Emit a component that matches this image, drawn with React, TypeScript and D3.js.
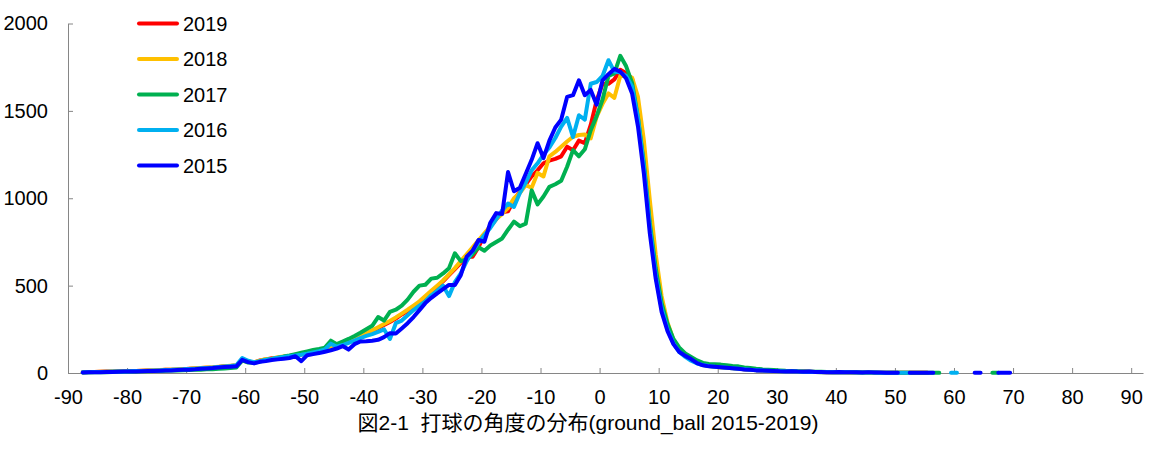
import * as d3 from "d3";
import React, { useEffect, useRef } from "react";

// launch angle bins (bin centres, degrees)
const angles: number[] = d3.range(-87.5, 70, 1);

const counts2019: (number | null)[] = [
	5, 6, 6, 7, 8, 9, 10, 11, 12, 12,
	13, 14, 15, 16, 18, 19, 20, 22, 24, 26,
	28, 30, 32, 35, 38, 40, 43, 70, 66, 60,
	72, 78, 84, 86, 92, 96, 100, 106, 116, 122,
	128, 136, 146, 156, 168, 180, 192, 208, 225, 240,
	258, 275, 292, 312, 335, 355, 378, 400, 430, 462,
	495, 525, 560, 595, 630, 665, 665, 720, 790, 840,
	880, 920, 925, 990, 1040, 1080, 1125, 1160, 1200, 1215,
	1225, 1240, 1295, 1275, 1330, 1315, 1420, 1560, 1655, 1655,
	1680, 1735, 1715, 1685, 1525, 1250, 900, 600, 400, 270,
	180, 130, 100, 78, 62, 50, 44, 40, 36, 32,
	28, 25, 22, 19, 17, 15, 13, 12, 11, 10,
	9, 8, 8, 7, 6, 6, 5, 5, 4, 4,
	4, 3, 3, 3, 3, 2, 2, 2, 2, 2,
	2, 1, 1, 1, null, null, null, null, null, null,
	null, null, null, null, null, null, null, null,
];

const counts2018: (number | null)[] = [
	4, 5, 6, 7, 7, 8, 9, 10, 11, 12,
	13, 14, 15, 17, 18, 19, 21, 22, 24, 27,
	29, 31, 33, 36, 39, 42, 45, 76, 64, 62,
	70, 80, 82, 90, 94, 98, 104, 110, 116, 124,
	130, 138, 148, 158, 170, 182, 196, 210, 226, 244,
	262, 280, 298, 318, 340, 362, 386, 410, 440, 470,
	500, 530, 565, 600, 640, 680, 720, 760, 800, 840,
	880, 910, 945, 1000, 1030, 1075, 1060, 1145, 1125, 1240,
	1265, 1295, 1325, 1352, 1362, 1365, 1343, 1467, 1540, 1600,
	1575, 1700, 1700, 1690, 1580, 1330, 990, 680, 440, 290,
	190, 135, 100, 76, 58, 46, 40, 36, 32, 30,
	27, 24, 21, 18, 16, 14, 13, 11, 10, 9,
	8, 8, 7, 6, 6, 5, 5, 4, 4, 4,
	3, 3, 3, 3, 2, 2, 2, 2, 2, 1,
	1, 1, 1, 1, null, null, null, null, null, null,
	null, null, null, null, null, null, null, null,
];

const counts2017: (number | null)[] = [
	3, 4, 4, 5, 5, 6, 7, 7, 8, 9,
	10, 10, 11, 12, 13, 14, 15, 16, 17, 18,
	19, 21, 22, 24, 26, 28, 32, 72, 60, 58,
	66, 74, 80, 86, 94, 100, 108, 116, 124, 132,
	138, 145, 185, 165, 180, 195, 212, 230, 250, 270,
	320, 300, 350, 362, 385, 420, 465, 500, 505, 540,
	545, 570, 600, 685, 640, 650, 680, 720, 700, 730,
	750, 770, 820, 866, 840, 855, 1045, 965, 1010, 1065,
	1080, 1100, 1180, 1275, 1240, 1280, 1390, 1470, 1565, 1700,
	1715, 1815, 1755, 1660, 1460, 1200, 860, 600, 400, 280,
	195, 145, 112, 92, 72, 58, 52, 50, 48, 44,
	40, 38, 32, 28, 24, 21, 19, 17, 15, 13,
	12, 10, 9, 8, 7, 7, 6, 5, 5, 4,
	4, 4, 3, 3, 3, 2, 2, 2, 2, 2,
	2, 2, 2, 2, 2, 1, null, null, null, null,
	null, null, null, null, 1, 1, null, null,
];

const counts2016: (number | null)[] = [
	4, 5, 6, 6, 7, 8, 9, 9, 10, 11,
	12, 13, 14, 15, 17, 18, 20, 21, 23, 25,
	27, 29, 31, 34, 37, 40, 44, 85, 70, 62,
	68, 76, 80, 88, 92, 96, 100, 104, 110, 118,
	125, 135, 168, 150, 160, 172, 185, 200, 212, 222,
	235, 250, 195, 285, 300, 330, 360, 385, 410, 445,
	470, 500, 440, 520, 570, 640, 700, 745, 790, 830,
	880, 930, 970, 950, 1030, 1090, 1160, 1200, 1250, 1290,
	1345, 1410, 1460, 1350, 1475, 1450, 1655, 1665, 1700, 1790,
	1725, 1720, 1700, 1640, 1460, 1180, 840, 560, 370, 250,
	170, 120, 92, 70, 54, 46, 40, 36, 33, 30,
	27, 24, 21, 18, 16, 14, 13, 11, 10, 9,
	8, 8, 7, 6, 6, 5, 5, 5, 4, 4,
	4, 3, 3, 3, 3, 2, 2, 2, 2, 1,
	1, null, null, null, null, null, null, 1, 1, null,
	null, null, null, null, null, null, null, null,
];

const counts2015: (number | null)[] = [
	3, 4, 4, 5, 6, 6, 7, 8, 8, 9,
	10, 11, 12, 13, 14, 15, 17, 18, 19, 21,
	24, 26, 28, 31, 34, 36, 38, 75, 62, 55,
	64, 68, 74, 78, 82, 86, 96, 68, 102, 108,
	114, 122, 130, 140, 154, 134, 165, 180, 182, 185,
	190, 205, 228, 226, 255, 285, 320, 360, 400, 430,
	456, 480, 504, 504, 560, 666, 700, 761, 751, 860,
	915, 910, 1150, 1040, 1060, 1140, 1220, 1315, 1230, 1330,
	1405, 1450, 1580, 1590, 1675, 1590, 1620, 1535, 1675, 1710,
	1740, 1725, 1685, 1600, 1410, 1140, 800, 540, 350, 240,
	165, 120, 98, 80, 56, 44, 38, 36, 33, 30,
	27, 24, 20, 18, 15, 14, 13, 12, 10, 9,
	10, 8, 7, 8, 6, 6, 5, 5, 6, 4,
	4, 4, 3, 5, 3, 3, 2, 2, 2, null,
	1, 1, 1, 1, 1, null, null, null, null, null,
	null, 1, 1, null, null, 1, 1, 1,
];

const seriesNames: string[] = ["2019", "2018", "2017", "2016", "2015"];
const seriesColors: string[] = ["#FF0000", "#FFC000", "#00B050", "#00B0F0", "#0000FF"];
const seriesValues = [counts2019, counts2018, counts2017, counts2016, counts2015];

const xTicks: number[] = d3.range(-90, 91, 10);
const yTicks: number[] = [0, 500, 1000, 1500, 2000];
const title = "図2-1  打球の角度の分布(ground_ball 2015-2019)";

const App = () => {
	const ref = useRef<SVGSVGElement>(null);

	useEffect(() => {
		document.body.style.margin = "0";
		const font = "'Liberation Sans', Arial, sans-serif";
		const axisColor = "#868686";

		const svg = d3.select(ref.current);
		svg.selectAll("*").remove();

		const xScale = d3.scaleLinear().domain([-90, 92]).range([68, 1143]);
		const yScale = d3.scaleLinear().domain([0, 2000]).range([373, 23.5]);

		// x axis, ticks point inward
		const gx = svg
			.append("g")
			.attr("transform", `translate(0, ${yScale(0)})`)
			.call(
				d3.axisBottom(xScale)
					.tickValues(xTicks)
					.tickSizeInner(-5)
					.tickSizeOuter(0)
					.tickPadding(17)
					.tickFormat((d) => String(d))
			);
		gx.select(".domain").attr("stroke", axisColor);
		gx.selectAll(".tick line").attr("stroke", axisColor);
		gx.selectAll(".tick text")
			.attr("fill", "#000")
			.attr("font-family", font)
			.attr("font-size", 20);

		// y axis
		const gy = svg
			.append("g")
			.attr("transform", `translate(${xScale(-90)}, 0)`)
			.call(
				d3.axisLeft(yScale)
					.tickValues(yTicks)
					.tickSizeInner(-5)
					.tickSizeOuter(0)
					.tickPadding(20)
					.tickFormat((d) => String(d))
			);
		gy.select(".domain").attr("stroke", axisColor);
		gy.selectAll(".tick line").attr("stroke", axisColor);
		gy.selectAll(".tick text")
			.attr("fill", "#000")
			.attr("font-family", font)
			.attr("font-size", 20);

		const line = d3
			.line<number | null>()
			.defined((d) => d !== null)
			.x((d, i) => xScale(angles[i]))
			.y((d) => yScale(d as number));

		seriesValues.forEach((values, k) => {
			svg.append("path")
				.datum(values)
				.attr("fill", "none")
				.attr("stroke", seriesColors[k])
				.attr("stroke-width", 4)
				.attr("stroke-linejoin", "round")
				.attr("stroke-linecap", "round")
				.attr("d", line);
		});

		// legend
		const legend = svg.append("g");
		seriesNames.forEach((name, k) => {
			const ly = 23.5 + k * 35.5;
			legend.append("line")
				.attr("x1", 139)
				.attr("x2", 177)
				.attr("y1", ly)
				.attr("y2", ly)
				.attr("stroke", seriesColors[k])
				.attr("stroke-width", 4)
				.attr("stroke-linecap", "round");
			legend.append("text")
				.attr("x", 183)
				.attr("y", ly + 7)
				.attr("font-family", font)
				.attr("font-size", 20)
				.text(name);
		});

		svg.append("text")
			.attr("x", 588)
			.attr("y", 430)
			.attr("text-anchor", "middle")
			.attr("font-family", "'Liberation Sans', 'Noto Sans CJK JP', sans-serif")
			.attr("font-size", 21)
			.style("white-space", "pre")
			.text(title);
	}, []);

	return (
		<svg
			ref={ref}
			width={1176}
			height={451}
			style={{ position: "absolute", left: 0, top: 0, background: "#fff" }}
		/>
	);
};

export default App;
